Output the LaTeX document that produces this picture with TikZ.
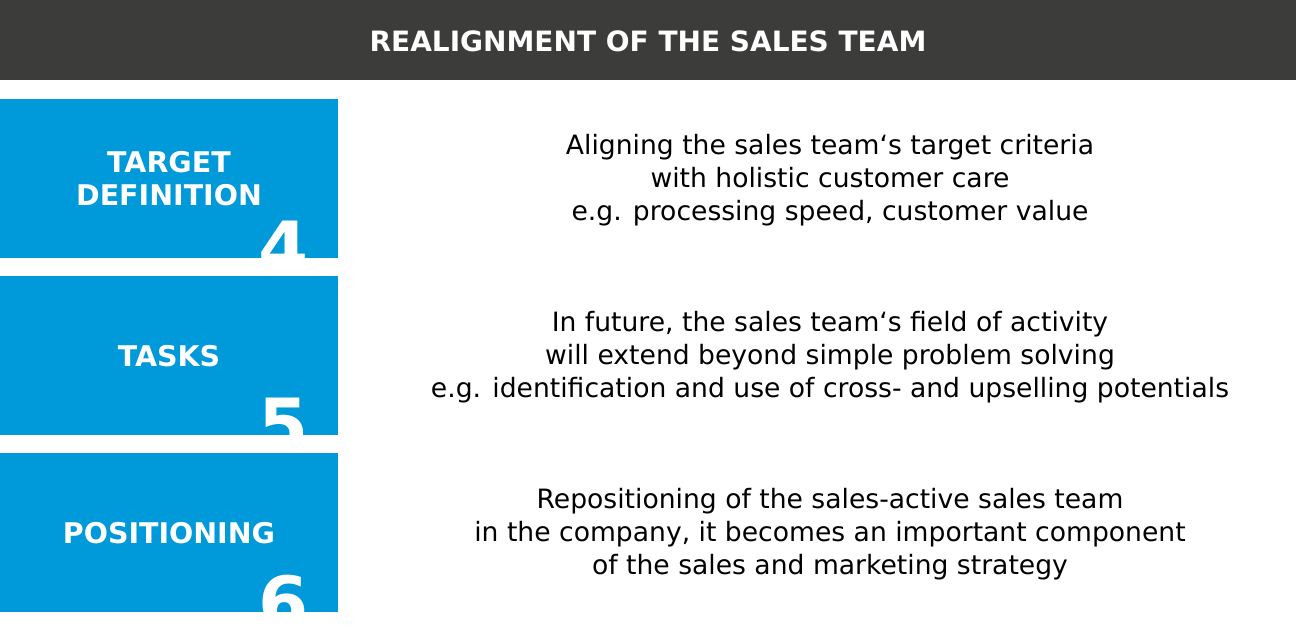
\documentclass[tikz,border=0pt]{standalone}
\usepackage{fontspec}
\setmainfont{DejaVu Sans}
\definecolor{hdr}{HTML}{3C3C3A}
\definecolor{blu}{HTML}{0099DA}
\begin{document}
\begin{tikzpicture}[x=1pt,y=-1pt,
  lbl/.style={text=white,font=\fontsize{28.5}{33}\selectfont\bfseries,align=center},
  body/.style={font=\fontsize{26.6}{33}\selectfont,align=center,text=black},
  dig/.style={text=white,font=\fontsize{72}{72}\selectfont\bfseries,anchor=north east,inner sep=0}]
\useasboundingbox (0,0) rectangle (1296,636);
\fill[hdr] (0,0) rectangle (1296,80);
\node[text=white,font=\fontsize{28}{30}\selectfont\bfseries] (h) at (648,41) {REALIGNMENT OF THE SALES TEAM};
\foreach \i/\t/\l/\d/\b in {0/99/{TARGET\\DEFINITION}/4/{Aligning the sales team`s target criteria\\with holistic customer care\\e.g. processing speed, customer value},
 1/276/TASKS/5/{In future, the sales team`s field of activity\\will extend beyond simple problem solving\\e.g. identification and use of cross- and upselling potentials},
 2/453/POSITIONING/6/{Repositioning of the sales-active sales team\\in the company, it becomes an important component\\of the sales and marketing strategy}}{
  \fill[blu] (0,\t) rectangle (338,\t+159);
  \node[lbl] (l\i) at (169,\t+80) {\l};
  \begin{scope}
    \clip (0,\t) rectangle (338,\t+159);
    \node[dig] (d\i) at (309,\t+122) {\d};
  \end{scope}
  \node[body] (b\i) at (830,\t+81) {\b};
}
\end{tikzpicture}
\end{document}
